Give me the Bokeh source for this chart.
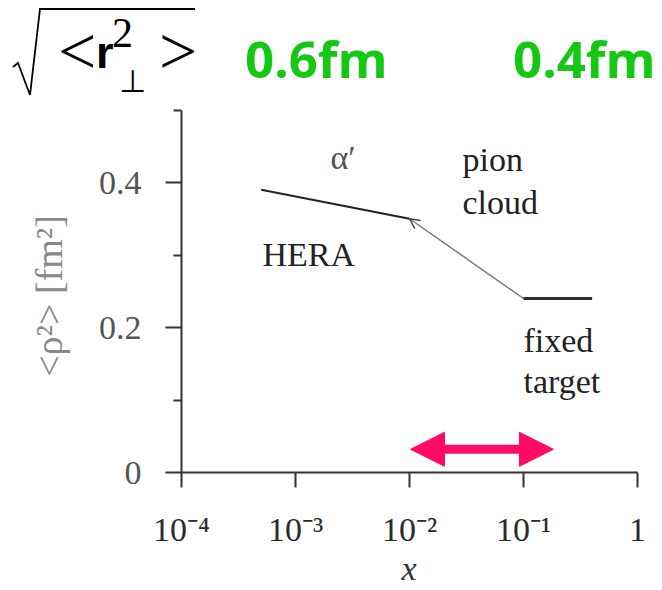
from bokeh.plotting import figure
from bokeh.layouts import column
from bokeh.models import (Range1d, FixedTicker, CustomJSTickFormatter, Label,
                          Arrow, NormalHead, OpenHead, Div)
from bokeh.embed import file_html
from bokeh.resources import INLINE

# ---------------- data ----------------
x_points = [5e-4, 1e-2, 1e-1, 4e-1]          # Bjorken x
rho2_points = [0.39, 0.35, 0.24, 0.24]        # <rho^2> [fm^2]
segment_names = ["HERA", "pion cloud", "fixed target"]
x_ticks = [1e-4, 1e-3, 1e-2, 1e-1, 1.0]
x_tick_labels = ["10⁻⁴", "10⁻³", "10⁻²", "10⁻¹", "1"]
y_ticks = [0.0, 0.2, 0.4]
y_minor_ticks = [0.1, 0.3, 0.5]
range_arrow_x = [0.0102, 0.183]
range_arrow_y = 0.032
header_sizes = ["0.6fm", "0.4fm"]

# ---------------- layout (reference pixel frame) ----------------
W = 660
TOP_H = 100          # header strip: ref y 0..100
MAIN_BOTTOM = 553    # main figure: ref y 100..553
FOOT_BOTTOM = 588    # footer strip: ref y 553..588
AX_X, AX_Y = 181, 472    # axis origin in reference pixels
DEC = 114.0          # px per decade
PPU = 725.0          # px per unit of rho^2
SERIF = "Liberation Serif"


def X(rx):
    return 10 ** (-4 + (rx - AX_X) / DEC)


def Y(ry):
    return (AX_Y - ry) / PPU


def add_label(fig, text, x, y, size_px, color="#222222", font=SERIF, style="normal",
              align="left", c=0.38):
    # y = desired text baseline in reference px (compensating Bokeh's anchor)
    yy = y - c * size_px
    fig.add_layout(Label(x=X(x), y=Y(yy), text=text,
                         text_font=font, text_font_size=f"{size_px}px", text_color=color,
                         text_font_style=style, text_align=align,
                         text_baseline="alphabetic"))


def svg_text(text, x, y, size, color="black", font=SERIF, weight="normal",
             style="normal", anchor="start"):
    css = (f"font-family:'{font}';font-size:{size}px;font-weight:{weight};"
           f"font-style:{style};fill:{color};")
    return (f'<text x="{x}" y="{y}" text-anchor="{anchor}" style="{css}">{text}</text>')


# ---------------- header: sqrt(<r_perp^2>)   0.6fm   0.4fm ----------------
GREEN = "#14c814"
head_svg = (
    f'<svg xmlns="http://www.w3.org/2000/svg" width="{W}" height="{TOP_H}" style="display:block">'
    '<polyline points="13,67 18,63 30,95 40,9 195,9" fill="none" stroke="black" '
    'stroke-width="1.8" stroke-linejoin="miter"/>'
    + svg_text("&lt;", 58, 74, 68)
    + svg_text("r", 96, 68, 45, font="Liberation Sans", weight="bold")
    + svg_text("2", 112, 47, 42)
    + svg_text("⊥", 119, 92, 31, font="DejaVu Sans")
    + svg_text("&gt;", 159, 74, 68)
    + svg_text(header_sizes[0], 245, 78, 51, color=GREEN, font="Open Sans", weight="bold")
    + svg_text(header_sizes[1], 513, 78, 51, color=GREEN, font="Open Sans", weight="bold")
    + '</svg>'
)
head = Div(text=head_svg, width=W, height=TOP_H, styles={"margin": "0", "padding": "0"})

# ---------------- main plot ----------------
MH = MAIN_BOTTOM - TOP_H
x_end = 10 ** (-4 + (W - AX_X) / DEC)
y_end = (AX_Y - TOP_H) / PPU
p = figure(width=W, height=MH, x_axis_type="log",
           x_range=Range1d(1e-4, x_end), y_range=Range1d(0, y_end),
           output_backend="svg", toolbar_location=None,
           min_border_left=AX_X, min_border_bottom=MAIN_BOTTOM - AX_Y,
           min_border_top=0, min_border_right=0)
p.outline_line_color = None
p.xgrid.visible = False
p.ygrid.visible = False

xa = p.xaxis[0]
xa.bounds = (x_ticks[0], x_ticks[-1])
xa.ticker = FixedTicker(ticks=x_ticks, minor_ticks=[])
xa.formatter = CustomJSTickFormatter(args=dict(tvals=x_ticks, tlabs=x_tick_labels), code="""
    for (let i = 0; i < tvals.length; i++) {
        if (Math.abs(Math.log10(tvals[i]) - Math.log10(tick)) < 1e-6) return tlabs[i];
    }
    return "";
""")
xa.axis_line_color = "#333333"
xa.axis_line_width = 2
xa.major_tick_line_color = "#333333"
xa.major_tick_line_width = 2
xa.major_tick_out = 15
xa.major_tick_in = 0
xa.minor_tick_line_color = None
xa.major_label_text_font = SERIF
xa.major_label_text_font_size = "34px"
xa.major_label_text_color = "#2a2a2a"
xa.major_label_standoff = 23

ya = p.yaxis[0]
ya.bounds = (0, 0.5)
ya.ticker = FixedTicker(ticks=y_ticks, minor_ticks=y_minor_ticks)
ya.axis_line_color = "#333333"
ya.axis_line_width = 2
ya.major_tick_line_color = "#333333"
ya.major_tick_line_width = 2
ya.major_tick_out = 16
ya.major_tick_in = 0
ya.minor_tick_line_color = "#333333"
ya.minor_tick_line_width = 2
ya.minor_tick_out = 8
ya.minor_tick_in = 0
ya.major_label_text_font = SERIF
ya.major_label_text_font_size = "34px"
ya.major_label_text_color = "#555555"
ya.major_label_standoff = 24
ya.axis_label = "<ρ²>   [fm²]"
ya.axis_label_text_font = SERIF
ya.axis_label_text_font_style = "normal"
ya.axis_label_text_font_size = "38px"
ya.axis_label_text_color = "#888888"
ya.axis_label_standoff = 26

p.segment(x0=x_points[:-1], y0=rho2_points[:-1], x1=x_points[1:], y1=rho2_points[1:],
          line_color=["#222222", "#7a7a7a", "#2b2b3c"], line_width=[2, 1.5, 3])
p.add_layout(Arrow(end=OpenHead(size=10, line_color="#444444", line_width=1.5),
                   x_start=x_points[2], y_start=rho2_points[2],
                   x_end=x_points[1], y_end=rho2_points[1], line_alpha=0))

PINK = "#ff0a64"
p.add_layout(Arrow(start=NormalHead(size=34, fill_color=PINK, line_color=PINK),
                   end=NormalHead(size=34, fill_color=PINK, line_color=PINK),
                   x_start=range_arrow_x[0], y_start=range_arrow_y,
                   x_end=range_arrow_x[1], y_end=range_arrow_y,
                   line_color=PINK, line_width=9))

add_label(p, "α′", 330, 170, 34, color="#555555")
add_label(p, "pion", 462, 172, 34)
add_label(p, "cloud", 462, 215, 34)
add_label(p, "HERA", 262, 267, 34)
add_label(p, "fixed", 523, 353, 34)
add_label(p, "target", 523, 394, 34)

# ---------------- footer: x-axis title ----------------
FH = FOOT_BOTTOM - MAIN_BOTTOM
foot_svg = (f'<svg xmlns="http://www.w3.org/2000/svg" width="{W}" height="{FH}" style="display:block">'
            + svg_text("x", 409, 580 - MAIN_BOTTOM, 34, color="#333333", style="italic",
                       anchor="middle")
            + '</svg>')
foot = Div(text=foot_svg, width=W, height=FH, styles={"margin": "0", "padding": "0"})

layout = column(head, p, foot, spacing=0)
open("out.html", "w").write(file_html(layout, INLINE))
